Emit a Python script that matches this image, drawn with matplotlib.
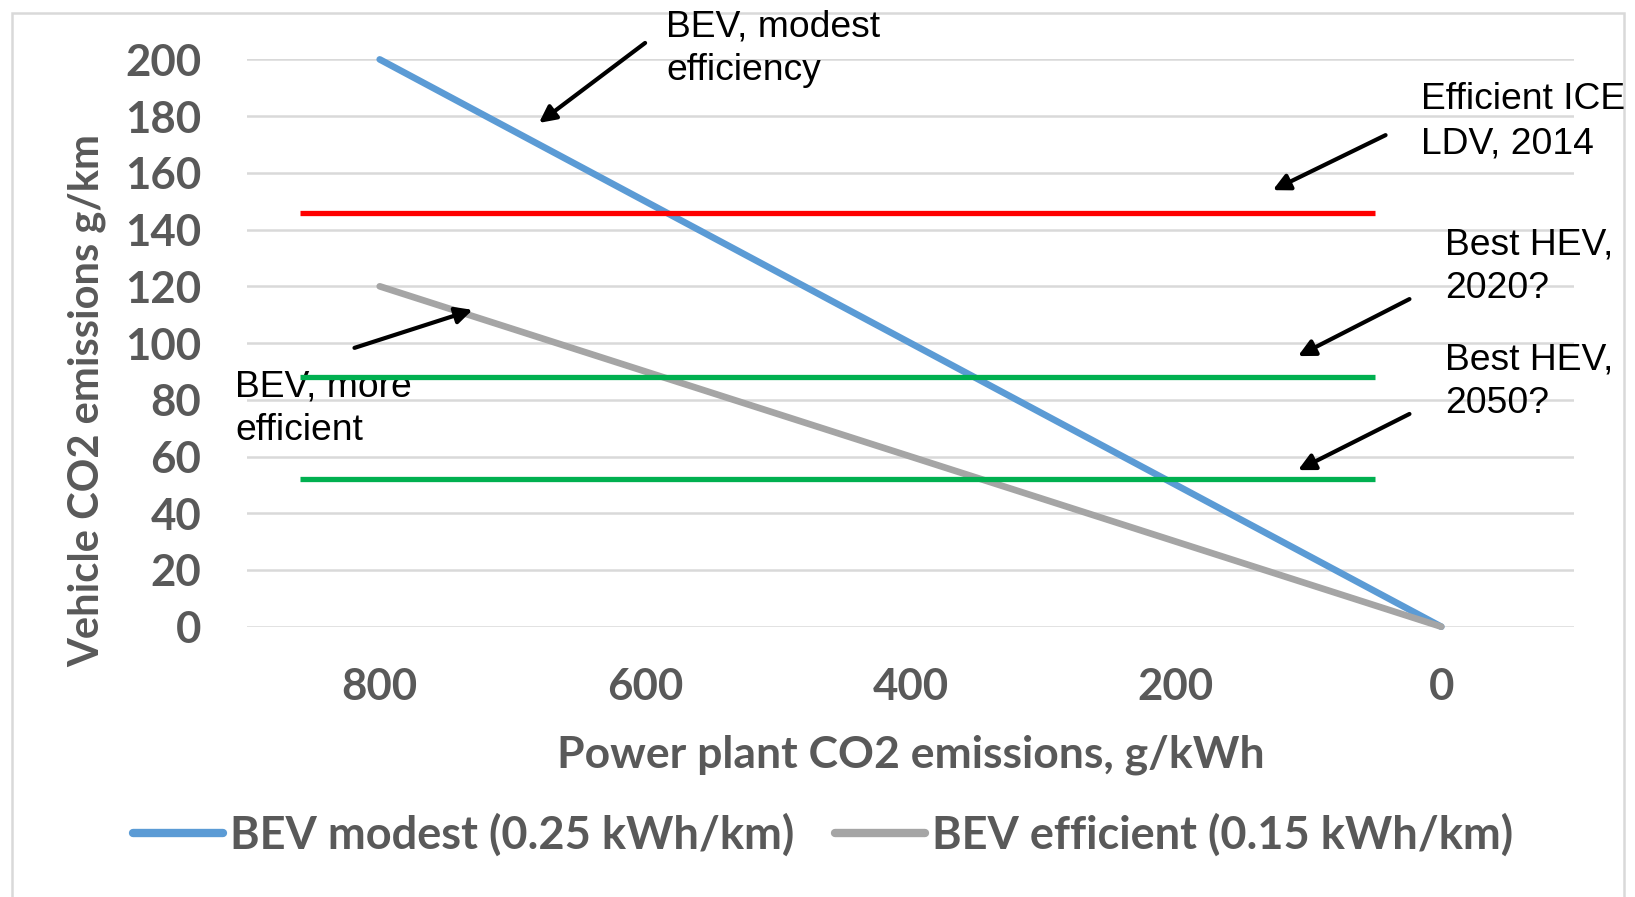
import matplotlib.pyplot as plt
from matplotlib.patches import Rectangle

# grid carbon intensity (g/kWh) and resulting vehicle emissions (g/km)
grid_intensity = [800, 600, 400, 200, 0]
bev_modest = [200, 150, 100, 50, 0]       # 0.25 kWh/km
bev_efficient = [120, 90, 60, 30, 0]      # 0.15 kWh/km

# reference vehicles, drawn as flat lines over the grid range
ref_span = [860, 50]
ice_2014 = 146
hev_2020 = 88
hev_2050 = 52

y_ticks = [0, 20, 40, 60, 80, 100, 120, 140, 160, 180, 200]

W, H = 1635, 897
fig = plt.figure(figsize=(W / 100, H / 100), dpi=100)
ax = fig.add_axes([247 / W, 1 - 626.7 / H, 1327 / W, 567.3 / H])
ax.patch.set_alpha(0)

axis_font = dict(family="Lato", weight="bold", color="#595959")
note_font = dict(family="Liberation Sans", color="black", fontsize=26.8)

# gridlines
ax.set_ylim(0, 200)
ax.set_xlim(900, -100)
ax.set_yticks(y_ticks)
ax.set_xticks(grid_intensity)
ax.grid(axis="y", color="#d9d9d9", lw=1.8, zorder=0)
ax.set_axisbelow(True)
for s in ax.spines.values():
    s.set_visible(False)
ax.tick_params(length=0, labelsize=31.5, labelcolor="#595959")
ax.tick_params(axis="y", pad=33)
ax.tick_params(axis="x", pad=29)
for lab in ax.get_xticklabels() + ax.get_yticklabels():
    lab.set_fontfamily("Lato")
    lab.set_fontweight("bold")

# the two BEV series
ax.plot(grid_intensity, bev_modest, color="#5b9bd5", lw=4.8,
        solid_capstyle="round", label="BEV modest (0.25 kWh/km)", zorder=3, clip_on=False)
ax.plot(grid_intensity, bev_efficient, color="#a5a5a5", lw=4.8,
        solid_capstyle="round", label="BEV efficient (0.15 kWh/km)", zorder=3, clip_on=False)

# reference levels
ax.plot(ref_span, [ice_2014] * 2, color="#ff0000", lw=3.8, solid_capstyle="butt", zorder=4)
ax.plot(ref_span, [hev_2020] * 2, color="#00b050", lw=3.8, solid_capstyle="butt", zorder=4)
ax.plot(ref_span, [hev_2050] * 2, color="#00b050", lw=3.8, solid_capstyle="butt", zorder=4)

# labels with arrows (text anchored at the baseline of its last line)
notes = [
    ("BEV, modest\nefficiency", (584, 192.6), (600, 205.8), (680, 177.6)),
    ("Efficient ICE\nLDV, 2014", (15, 167.0), (42, 173.3), (127, 153.9)),
    ("Best HEV,\n2020?", (-3, 115.9), (24, 115.5), (108, 95.4)),
    ("Best HEV,\n2050?", (-3, 75.3), (24, 75.0), (108, 55.2)),
    ("BEV, more\nefficient", (909, 65.8), (819, 98.3), (730, 111.7)),
]
for txt, pos, tail, head in notes:
    ax.text(pos[0], pos[1], txt, ha="left", va="baseline", linespacing=1.32,
            zorder=1, clip_on=False, **note_font)
    ax.annotate("", xy=head, xytext=tail, zorder=5, annotation_clip=False,
                arrowprops=dict(arrowstyle="-|>,head_length=0.5,head_width=0.25",
                                mutation_scale=20, lw=3, color="black",
                                shrinkA=0, shrinkB=0))

ax.set_xlabel("Power plant CO2 emissions, g/kWh", fontsize=32, labelpad=20, **axis_font)
ax.set_ylabel("Vehicle CO2 emissions g/km", fontsize=30, **axis_font)
ax.yaxis.set_label_coords(-0.1206, 0.398)
ax.yaxis.label.set_va("center")

leg = ax.legend(loc="center", bbox_to_anchor=(823 / W, 1 - 835 / H),
                bbox_transform=fig.transFigure, ncol=2, frameon=False,
                handlelength=2.0, handletextpad=0.15, columnspacing=0.9,
                prop=dict(family="Lato", weight="bold", size=32.5))
for t in leg.get_texts():
    t.set_color("#595959")
for h in leg.legend_handles:
    h.set_linewidth(6)
    h.set_solid_capstyle("round")

# chart area border, kept behind the axes content
fig.add_artist(Rectangle((12 / W, -0.05), 1612 / W, 1 - 13 / H + 0.05,
                         transform=fig.transFigure, fill=False,
                         ec="#d9d9d9", lw=1.8, zorder=-1))

fig.savefig("out.png", dpi=100)
